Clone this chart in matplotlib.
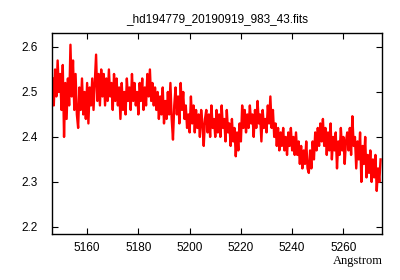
# spectrum plot, gnuplot-like look
import numpy as np
import matplotlib.pyplot as plt

title = "_hd194779_20190919_983_43.fits"
xlabel = "Angstrom"

# wavelength sampling of the spectrum (Angstrom)
wave_start = 5146.5
wave_step = 0.5

# flux, 0.5 A per value
flux = [
    2.53, 2.47, 2.55, 2.49, 2.57, 2.50, 2.54, 2.46, 2.56, 2.40,
    2.52, 2.44, 2.53, 2.47, 2.605, 2.49, 2.57, 2.46, 2.54, 2.45,
    2.42, 2.51, 2.46, 2.53, 2.45, 2.50, 2.44, 2.52, 2.43, 2.51,
    2.47, 2.53, 2.46, 2.52, 2.583, 2.48, 2.54, 2.47, 2.55, 2.49,
    2.54, 2.47, 2.53, 2.48, 2.55, 2.49, 2.52, 2.46, 2.54, 2.48,
    2.53, 2.47, 2.51, 2.44, 2.52, 2.46, 2.50, 2.45, 2.53, 2.48,
    2.51, 2.46, 2.54, 2.48, 2.52, 2.47, 2.50, 2.45, 2.52, 2.48,
    2.53, 2.46, 2.51, 2.47, 2.54, 2.49, 2.55, 2.48, 2.52, 2.47,
    2.51, 2.46, 2.50, 2.44, 2.49, 2.45, 2.51, 2.43, 2.48, 2.44,
    2.50, 2.45, 2.52, 2.44, 2.394, 2.47, 2.51, 2.45, 2.49, 2.43,
    2.52, 2.46, 2.50, 2.44, 2.47, 2.42, 2.45, 2.41, 2.49, 2.43,
    2.47, 2.41, 2.46, 2.42, 2.45, 2.40, 2.46, 2.43, 2.38, 2.44,
    2.46, 2.41, 2.45, 2.40, 2.47, 2.42, 2.44, 2.40, 2.46, 2.41,
    2.45, 2.40, 2.47, 2.42, 2.44, 2.39, 2.46, 2.41, 2.43, 2.38,
    2.44, 2.39, 2.42, 2.357, 2.41, 2.37, 2.43, 2.39, 2.47, 2.42,
    2.46, 2.41, 2.45, 2.42, 2.47, 2.43, 2.45, 2.40, 2.46, 2.42,
    2.48, 2.43, 2.45, 2.39, 2.46, 2.42, 2.44, 2.41, 2.47, 2.43,
    2.49, 2.42, 2.46, 2.40, 2.43, 2.38, 2.42, 2.37, 2.41, 2.38,
    2.42, 2.37, 2.40, 2.36, 2.41, 2.38, 2.42, 2.37, 2.40, 2.36,
    2.41, 2.36, 2.39, 2.34, 2.38, 2.33, 2.37, 2.34, 2.39, 2.33,
    2.32, 2.37, 2.33, 2.39, 2.35, 2.41, 2.37, 2.42, 2.38, 2.43,
    2.39, 2.44, 2.38, 2.42, 2.36, 2.41, 2.37, 2.43, 2.35, 2.40,
    2.37, 2.41, 2.33, 2.39, 2.36, 2.42, 2.37, 2.40, 2.34, 2.39,
    2.41, 2.37, 2.42, 2.36, 2.446, 2.38, 2.40, 2.33, 2.39, 2.35,
    2.41, 2.30, 2.38, 2.34, 2.40, 2.31, 2.36, 2.32, 2.37, 2.30,
    2.35, 2.31, 2.36, 2.28, 2.33, 2.30, 2.35,
]

xticks = [5160, 5180, 5200, 5220, 5240, 5260]
yticks = [2.2, 2.3, 2.4, 2.5, 2.6]

wave = wave_start + wave_step * np.arange(len(flux))

plt.rcParams['font.family'] = ['Liberation Sans', 'DejaVu Sans']

fig = plt.figure(figsize=(4, 2.8), dpi=100)
ax = fig.add_axes([0.13, 0.164, 0.824, 0.718])

ax.plot(wave, flux, color="red", lw=1.7)

ax.set_xlim(5146.3, 5274.9)
ax.set_ylim(2.184, 2.631)
ax.set_xticks(xticks)
ax.set_yticks(yticks)
ax.set_yticklabels(["%.1f" % v for v in yticks])
ax.tick_params(direction="in", length=4, width=0.8, labelsize=8.5,
               top=True, right=True, colors="black")
ax.tick_params(axis="y", pad=10)
ax.tick_params(axis="x", pad=6)
for s in ax.spines.values():
    s.set_linewidth(1.0)

ax.set_title(title, fontsize=8.5, pad=8)
fig.text(383 / 400, 1 - 261 / 280, xlabel, ha="right", va="center",
         fontsize=9, family="Liberation Serif")

fig.savefig("out.png", dpi=100)
